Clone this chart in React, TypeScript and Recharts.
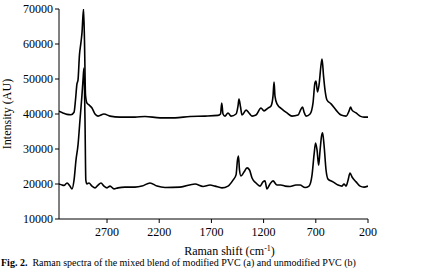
import React from 'react';
import { LineChart, Line, XAxis, YAxis, Label } from 'recharts';

// Raman shift (cm-1) and intensity (AU) for the upper spectrum
const upperShift = [3160, 3122, 3083, 3045, 3016, 3002, 2988, 2978, 2964, 2949, 2940, 2925, 2916, 2906, 2892, 2873, 2844, 2815, 2786, 2729, 2671, 2576, 2432, 2336, 2192, 2049, 1905, 1761, 1637, 1613, 1601, 1589, 1570, 1541, 1512, 1464, 1445, 1436, 1421, 1407, 1368, 1340, 1311, 1273, 1225, 1196, 1158, 1129, 1110, 1100, 1091, 1072, 1024, 976, 928, 870, 842, 827, 813, 794, 755, 727, 708, 698, 684, 669, 650, 640, 626, 612, 593, 554, 506, 458, 410, 381, 367, 353, 314, 276, 238, 200];
const upperIntensity = [40800, 40300, 39900, 39800, 40500, 44000, 48600, 49700, 56900, 60600, 63100, 70000, 61100, 45400, 43100, 42600, 41700, 40000, 39400, 40000, 39400, 39100, 39100, 39300, 38900, 38900, 39300, 39400, 39600, 40000, 43100, 40000, 39400, 40300, 39400, 40000, 42300, 44300, 42000, 39700, 41100, 40300, 39400, 39700, 41700, 40900, 41700, 42300, 45100, 49100, 45100, 42900, 41400, 40300, 39400, 39700, 41400, 42000, 40600, 39400, 40000, 43100, 48900, 49400, 46300, 48300, 54000, 55700, 50900, 46900, 44000, 42900, 41100, 39700, 39400, 40900, 42000, 41100, 40300, 39400, 39100, 39100];

// Raman shift (cm-1) and intensity (AU) for the lower spectrum
const lowerShift = [3160, 3131, 3112, 3083, 3055, 3035, 3016, 2997, 2978, 2959, 2940, 2930, 2921, 2911, 2903, 2892, 2873, 2844, 2815, 2786, 2758, 2729, 2700, 2671, 2633, 2595, 2528, 2432, 2365, 2288, 2221, 2144, 2001, 1857, 1780, 1713, 1666, 1599, 1541, 1493, 1464, 1450, 1441, 1431, 1417, 1388, 1359, 1335, 1311, 1273, 1234, 1206, 1187, 1168, 1139, 1110, 1072, 1034, 995, 947, 890, 851, 803, 765, 736, 717, 702, 688, 673, 659, 645, 635, 621, 602, 583, 535, 487, 449, 430, 410, 391, 372, 353, 314, 276, 238, 200];
const lowerIntensity = [20000, 19700, 19600, 20300, 19400, 18600, 21100, 26900, 31100, 38300, 45400, 49700, 53100, 38300, 21100, 20000, 20300, 19400, 18900, 19700, 20300, 19400, 18900, 19400, 18600, 18900, 19100, 19100, 19400, 20300, 19400, 19000, 19100, 20000, 19300, 19700, 19400, 18900, 19400, 21100, 22600, 26900, 28000, 24000, 22300, 23400, 24600, 24000, 21700, 20300, 19400, 20600, 20900, 18600, 20000, 20900, 19700, 19700, 19400, 19300, 19700, 19700, 19000, 19400, 22600, 28300, 31700, 29700, 25400, 29700, 33700, 34600, 31100, 24000, 21400, 20600, 19700, 19400, 20000, 19400, 21100, 23100, 22000, 20600, 19400, 19100, 19400];

const xTicks = [2700, 2200, 1700, 1200, 700, 200];
const yTicks = [10000, 20000, 30000, 40000, 50000, 60000, 70000];

const caption = 'Raman spectra of the mixed blend of modified PVC (a) and unmodified PVC (b)';

const toPoints = (shift: number[], intensity: number[]) =>
  shift.map((s, i) => ({ shift: s, intensity: intensity[i] }));

const upperData = toPoints(upperShift, upperIntensity);
const lowerData = toPoints(lowerShift, lowerIntensity);

const FONT = '"Liberation Serif", "Times New Roman", serif';
const tickStyle = { fontSize: 12, fill: '#000', fontFamily: FONT };

const XTitle = (props: any) => {
  const vb = props.viewBox || {};
  const cx = vb.x + vb.width / 2 + 16;
  return (
    <text x={cx} y={255} textAnchor="middle" fontSize={12} fontFamily={FONT} fill="#000">
      Raman shift (cm
      <tspan dy={-4} fontSize={8}>-1</tspan>
      <tspan dy={4}>)</tspan>
    </text>
  );
};

const YTitle = (props: any) => {
  const vb = props.viewBox || {};
  const cy = vb.y + vb.height / 2;
  return (
    <text x={11} y={cy} transform={`rotate(-90 11 ${cy})`} textAnchor="middle"
      fontSize={12} fontFamily={FONT} fill="#000">
      Intensity (AU)
    </text>
  );
};

export default function App() {
  return (
    <div style={{ position: 'absolute', left: 0, top: 0, width: 444, height: 269, overflow: 'hidden', background: '#fff' }}>
      <LineChart width={444} height={269} margin={{ top: 9, right: 76, left: 0, bottom: 20 }}>
        <XAxis dataKey="shift" type="number" domain={[200, 3160]} reversed ticks={xTicks}
          interval={0} allowDataOverflow height={30} tick={tickStyle} tickSize={4}
          tickMargin={4} stroke="#000">
          <Label content={<XTitle />} />
        </XAxis>
        <YAxis type="number" domain={[10000, 70000]} ticks={yTicks} interval={0}
          allowDataOverflow width={59} tick={tickStyle} tickSize={4} tickMargin={2}
          stroke="#000">
          <Label content={<YTitle />} />
        </YAxis>
        <Line data={upperData} dataKey="intensity" type="monotone" stroke="#000"
          strokeWidth={1.6} dot={false} isAnimationActive={false} />
        <Line data={lowerData} dataKey="intensity" type="monotone" stroke="#000"
          strokeWidth={1.6} dot={false} isAnimationActive={false} />
      </LineChart>
      <div style={{ position: 'absolute', left: 1, top: 257, lineHeight: '12px', whiteSpace: 'nowrap', fontFamily: FONT, fontSize: 10, color: '#000' }}>
        <b>Fig. 2.</b>&nbsp; {caption}
      </div>
    </div>
  );
}
